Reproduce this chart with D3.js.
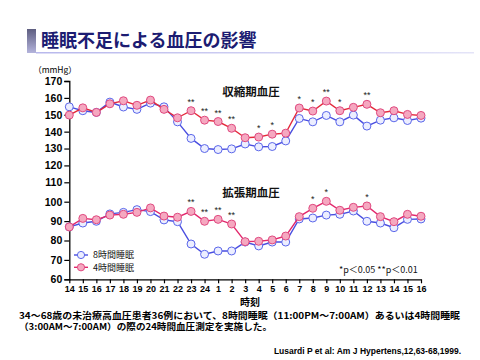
<!DOCTYPE html>
<html><head><meta charset="utf-8">
<script src="https://cdn.jsdelivr.net/npm/d3@7"></script>
<style>
html,body{margin:0;padding:0;background:#fff;}
svg{display:block;}
text{font-family:"Liberation Sans",Arial,"Noto Sans CJK JP",sans-serif;}
.jp{font-family:"Noto Sans CJK JP","Liberation Sans",sans-serif;}
</style></head>
<body>
<svg id="c" width="480" height="360"></svg>
<script>
const hours = [14,15,16,17,18,19,20,21,22,23,24,1,2,3,4,5,6,7,8,9,10,11,12,13,14,15,16];
const yTicks = [60,70,80,90,100,110,120,130,140,150,160,170];
const sys8 = [154.7,152.4,151.4,157.5,154.6,153.2,156.9,154.7,145.8,136,130,129.4,129.8,132.7,131,131.2,134.5,147.8,145.8,149.6,145.8,149.8,143.3,146.8,148.2,146.6,148];
const sys4 = [149.8,154.1,151.4,156.5,158.3,155.6,158.7,153.2,148.2,152.4,146.8,146,142,136.4,136.8,138.5,139.1,154,152.2,158.1,152.4,154.4,156.2,151.2,152.4,150.2,149.6];
const dia8 = [87,89,89.9,93.7,94.5,95.9,94.9,90.6,89.7,78.2,72.9,74.6,74.6,79.2,77.2,79.2,79.2,91.1,91.6,93.1,93.5,95.2,89.9,89,86.6,90.9,91.1];
const dia4 = [87,91.4,90.7,93.1,93.5,94.5,96.8,92.6,92,95,89.9,90.9,88.5,79.4,79.6,80.3,82.3,92.3,96.6,100.2,95.6,97.1,97.8,92.3,89.7,93.5,92.5];
const sysSig = [[9,"**"],[10,"**"],[11,"**"],[12,"**"],[14,"*"],[15,"*"],[17,"*"],[18,"*"],[19,"**"],[20,"*"],[22,"**"]];
const diaSig = [[9,"**"],[10,"**"],[11,"**"],[12,"**"],[18,"*"],[19,"*"],[22,"*"]];
const legendLabels = ["8時間睡眠","4時間睡眠"];

const svg = d3.select("#c");

// heading
const defs = svg.append("defs");
const g1 = defs.append("linearGradient").attr("id","blk").attr("x1",0).attr("y1",0).attr("x2",0).attr("y2",1);
g1.append("stop").attr("offset",0).attr("stop-color","#5e5e80");
g1.append("stop").attr("offset",1).attr("stop-color","#b4b4dc");
const g2 = defs.append("linearGradient").attr("id","uln").attr("x1",0).attr("y1",0).attr("x2",1).attr("y2",0);
g2.append("stop").attr("offset",0).attr("stop-color","#b8b8ec");
g2.append("stop").attr("offset",1).attr("stop-color","#e4e4f8");
svg.append("rect").attr("x",27).attr("y",29).attr("width",9).attr("height",24).attr("fill","url(#blk)");
svg.append("rect").attr("x",36).attr("y",52).attr("width",438).attr("height",1.5).attr("fill","url(#uln)");
svg.append("text").attr("class","jp").attr("x",41).attr("y",47).attr("font-size",18).attr("font-weight","bold")
  .attr("fill","#1c1c72").text("睡眠不足による血圧の影響");

const x = d3.scaleLinear().domain([0, hours.length-1]).range([69.3, 421]);
const y = d3.scaleLinear().domain([60,110,170]).range([279.3,182.3,81]);

// y axis
const ya = svg.append("g").attr("transform","translate(69.3,0)")
  .call(d3.axisLeft(y).tickValues(yTicks).tickSize(5).tickPadding(2));
ya.select(".domain").attr("stroke","#000").attr("stroke-width",1.3);
ya.selectAll(".tick line").attr("stroke","#000").attr("stroke-width",1.2);
ya.selectAll(".tick text").attr("font-size",10.5).attr("font-weight","bold").attr("fill","#000")
  .attr("font-family","'Liberation Sans',Arial,sans-serif");

// x axis
const xa = svg.append("g").attr("transform","translate(0,279.3)")
  .call(d3.axisBottom(x).tickValues(d3.range(hours.length)).tickFormat(i=>hours[i]).tickSize(4).tickPadding(2).tickSizeOuter(0));
xa.select(".domain").attr("stroke","#000").attr("stroke-width",1.3);
xa.selectAll(".tick line").attr("stroke","#000").attr("stroke-width",1.2);
xa.selectAll(".tick text").attr("font-size",9).attr("font-weight","bold").attr("fill","#000")
  .attr("font-family","'Liberation Sans',Arial,sans-serif");

svg.append("text").attr("class","jp").attr("x",250).attr("y",306).attr("text-anchor","middle")
  .attr("font-size",10).attr("font-weight","bold").text("時刻");
svg.append("text").attr("x",55).attr("y",73).attr("text-anchor","middle")
  .attr("font-size",8.5).attr("class","jp").text("（mmHg）");

function series(data, lineColor, fill, stroke){
  const line = d3.line().x((d,i)=>x(i)).y(d=>y(d));
  svg.append("path").datum(data).attr("d",line).attr("fill","none").attr("stroke",lineColor).attr("stroke-width",1.4);
  svg.append("g").selectAll("circle").data(data).join("circle")
    .attr("cx",(d,i)=>x(i)).attr("cy",d=>y(d)).attr("r",4)
    .attr("fill",fill).attr("stroke",stroke).attr("stroke-width",1);
}
const blueLine="#4a4ee0", blueFill="#eceeff", blueStroke="#5a66ea";
const pinkFill="#f5a8c0", pinkStroke="#e04a80";
series(sys8, blueLine, blueFill, blueStroke);
series(sys4, "#e42a3c", pinkFill, pinkStroke);
series(dia8, blueLine, blueFill, blueStroke);
series(dia4, "#e2286c", pinkFill, pinkStroke);

function sig(list, data){
  svg.append("g").selectAll("text").data(list).join("text")
    .attr("x",d=>x(d[0])).attr("y",d=>y(data[d[0]])-6)
    .attr("text-anchor","middle").attr("font-size",9).attr("fill","#222").text(d=>d[1]);
}
sig(sysSig, sys4);
sig(diaSig, dia4);

svg.append("text").attr("class","jp").attr("x",251).attr("y",96).attr("text-anchor","middle")
  .attr("font-size",11.5).attr("font-weight","bold").attr("fill","#111").text("収縮期血圧");
svg.append("text").attr("class","jp").attr("x",251).attr("y",197).attr("text-anchor","middle")
  .attr("font-size",11.5).attr("font-weight","bold").attr("fill","#111").text("拡張期血圧");

// legend
const leg = [[blueLine,blueFill,blueStroke],["#e2286c",pinkFill,pinkStroke]];
leg.forEach((c,i)=>{
  const ly = 255 + i*12.3;
  svg.append("line").attr("x1",74).attr("x2",88).attr("y1",ly).attr("y2",ly).attr("stroke",c[0]).attr("stroke-width",1.4);
  svg.append("circle").attr("cx",81).attr("cy",ly).attr("r",3.6).attr("fill",c[1]).attr("stroke",c[2]);
  svg.append("text").attr("class","jp").attr("x",93).attr("y",ly+3.3).attr("font-size",9).attr("fill","#111").text(legendLabels[i]);
});

svg.append("text").attr("x",339).attr("y",272.5).attr("font-size",9).attr("fill","#111")
  .attr("class","jp").text("*p＜0.05  **p＜0.01");

// footnotes
svg.append("text").attr("class","jp").attr("x",19).attr("y",318.5).attr("font-size",9).attr("font-weight","bold")
  .attr("textLength",441).attr("lengthAdjust","spacingAndGlyphs")
  .text("34～68歳の未治療高血圧患者36例において、8時間睡眠（11:00PM～7:00AM）あるいは4時間睡眠");
svg.append("text").attr("class","jp").attr("x",19).attr("y",330).attr("font-size",9).attr("font-weight","bold")
  .attr("textLength",253).attr("lengthAdjust","spacingAndGlyphs")
  .text("（3:00AM～7:00AM）の際の24時間血圧測定を実施した。");
svg.append("text").attr("x",461).attr("y",354).attr("text-anchor","end").attr("font-size",8.5).attr("font-weight","bold")
  .text("Lusardi P et al: Am J Hypertens,12,63-68,1999.");
</script>
</body></html>
